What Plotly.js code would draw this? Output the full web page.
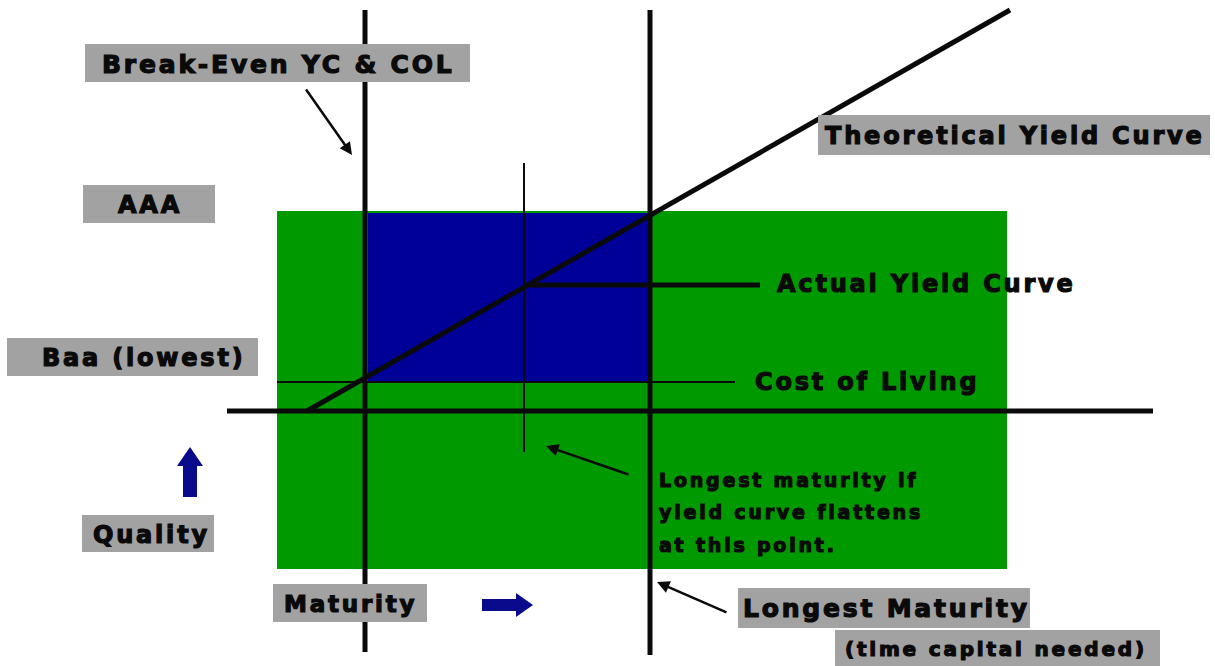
<!DOCTYPE html>
<html>
<head>
<meta charset="utf-8">
<script src="https://cdn.plot.ly/plotly-3.0.1.min.js"></script>
<style>
  html, body { margin: 0; padding: 0; background: #ffffff; }
  #chart { width: 1215px; height: 666px; }
  /* heavy, widely set label lettering */
  .annotation-text { letter-spacing: 2.8px; stroke: #0a0a0a; stroke-width: 1.2px; }
</style>
</head>
<body>
<div id="chart"></div>
<script>
// Horizontal axis = maturity, vertical axis = yield / quality (drawn top-down, 0 at top).
// Key maturities: break-even point, flattening point, longest maturity needed.
const maturityNames = ['Break-Even YC & COL', 'Flattening point', 'Longest Maturity'];
const maturityX = [365, 524, 650];
const maturityTop = [10, 163, 10];
const maturityBottom = [652, 452, 655];
const maturityWidth = [5, 2, 5];

// Yield levels
const costOfLivingY = [382, 382];
const costOfLivingX = [277, 735];
const baseAxisX = [227, 1153];
const baseAxisY = [411, 411];

// Theoretical (upward sloping) yield curve
const theoreticalX = [307, 1010];
const theoreticalY = [411, 10];

// Actual yield curve, flattening after the flattening point
const actualX = [524, 760];
const actualY = [285, 285];

// Quality band (AAA down to the bottom of the field) and the profitable zone
const qualityBandX = [277, 1007];
const qualityBandY = [211, 569];
const zoneX = [368, 650];
const zoneY = [213, 382];

const GREEN = '#009a00';
const BLUE = '#000099';
const NAVY = '#0a0a8c';
const GREY = '#a2a2a2';
const INK = '#0a0a0a';
const FONT = 'DejaVu Sans, Liberation Sans, sans-serif';

const traces = [];
function line(xs, ys, w) {
  traces.push({
    x: xs, y: ys, type: 'scatter', mode: 'lines',
    line: { color: INK, width: w }, hoverinfo: 'skip', showlegend: false
  });
}
maturityX.forEach((mx, i) => line([mx, mx], [maturityTop[i], maturityBottom[i]], maturityWidth[i]));
line(baseAxisX, baseAxisY, 5);
line(costOfLivingX, costOfLivingY, 2);
line(theoreticalX, theoreticalY, 5);
line(actualX, actualY, 5);

// Grey label boxes: [x0, x1, y0, y1]
const boxes = [
  [85, 470, 44, 82],
  [83, 215, 185, 223],
  [818, 1210, 115, 155],
  [7, 258, 338, 376],
  [82, 214, 515, 552],
  [273, 427, 584, 622],
  [738, 1030, 588, 628],
  [835, 1160, 630, 666]
];

const shapes = [
  { type: 'rect', layer: 'below', x0: qualityBandX[0], x1: qualityBandX[1], y0: qualityBandY[0], y1: qualityBandY[1],
    fillcolor: GREEN, line: { width: 0 } },
  { type: 'rect', layer: 'below', x0: zoneX[0], x1: zoneX[1], y0: zoneY[0], y1: zoneY[1],
    fillcolor: BLUE, line: { width: 0 } }
];
boxes.forEach(b => shapes.push({
  type: 'rect', layer: 'above', x0: b[0], x1: b[1], y0: b[2], y1: b[3],
  fillcolor: GREY, line: { width: 0 }
}));

// Blue direction arrows (quality up, maturity right)
shapes.push({
  type: 'path', layer: 'above', fillcolor: NAVY, line: { width: 0 },
  path: 'M 183 497 L 197 497 L 197 466 L 203 466 L 190 447 L 177 466 L 183 466 Z'
});
shapes.push({
  type: 'path', layer: 'above', fillcolor: NAVY, line: { width: 0 },
  path: 'M 482 599 L 516 599 L 516 593 L 533 605 L 516 617 L 516 611 L 482 611 Z'
});

function label(text, x, y, size, anchor) {
  return {
    text: text, x: x, y: y, xref: 'x', yref: 'y', showarrow: false,
    xanchor: anchor || 'center', yanchor: 'middle',
    font: { family: FONT, size: size, color: INK, weight: 'bold' }
  };
}
function pointer(x0, y0, x1, y1) {
  return {
    text: '', x: x1, y: y1, ax: x0, ay: y0, xref: 'x', yref: 'y', axref: 'x', ayref: 'y',
    showarrow: true, arrowhead: 2, arrowsize: 1, arrowwidth: 2.5, arrowcolor: INK
  };
}

const annotations = [
  label('Break-Even YC &amp; COL', 278, 64, 25),
  label('AAA', 150, 205, 24),
  label('Theoretical Yield Curve', 1015, 136, 24),
  label('Actual Yield Curve', 775, 284, 24, 'left'),
  label('Cost of Living', 753, 382, 24, 'left'),
  label('Baa (lowest)', 144, 358, 24),
  label('Quality', 151, 535, 24),
  label('Maturity', 350, 604, 23),
  label('Longest Maturity', 886, 608, 25),
  label('(time capital needed)', 996, 649, 20),
  label('Longest maturity if', 657, 480, 19, 'left'),
  label('yield curve flattens', 657, 512, 19, 'left'),
  label('at this point.', 657, 545, 19, 'left'),
  pointer(305, 88, 352, 155),
  pointer(630, 475, 546, 446),
  pointer(728, 613, 657, 582)
];

const layout = {
  width: 1215, height: 666,
  margin: { l: 0, r: 0, t: 0, b: 0 },
  paper_bgcolor: '#ffffff', plot_bgcolor: '#ffffff',
  xaxis: { range: [0, 1215], visible: false, fixedrange: true },
  yaxis: { range: [666, 0], visible: false, fixedrange: true },
  shapes: shapes,
  annotations: annotations,
  showlegend: false
};

Plotly.newPlot('chart', traces, layout, { displayModeBar: false, staticPlot: true });
</script>
</body>
</html>
